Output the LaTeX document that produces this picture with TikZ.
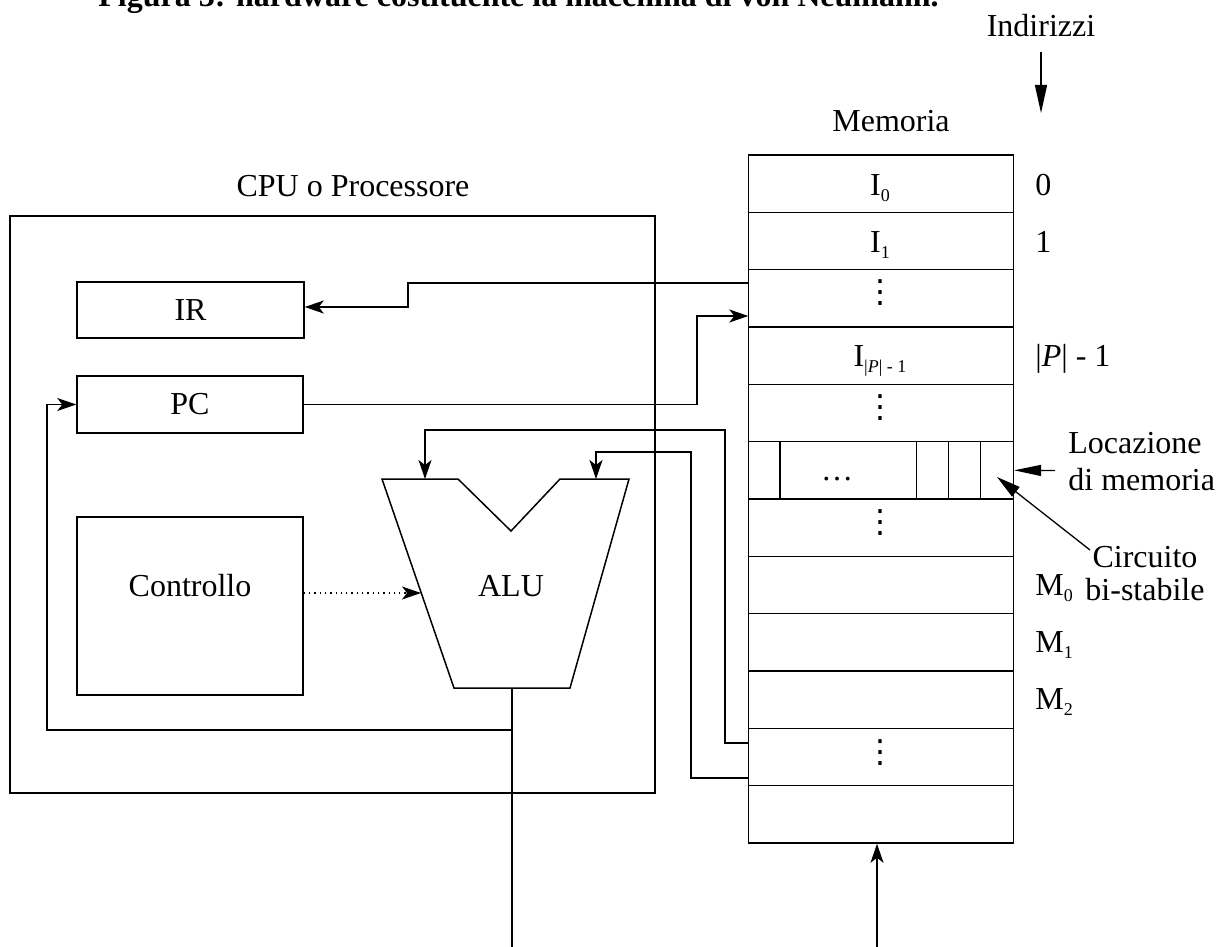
\documentclass[tikz,border=0pt]{standalone}
\usepackage{fontspec}
\setmainfont{Liberation Serif}
\newfontfamily\symfont{DejaVu Sans}
\usetikzlibrary{arrows.meta,calc}
\newcommand\memsub[1]{\raisebox{-0.45ex}{\fontsize{9}{9}\selectfont #1}}
\newcommand\memvdots{{\symfont ⋮}}
\begin{document}
\begin{tikzpicture}[x=0.5pt,y=-0.5pt,
  font=\fontsize{16}{18.5}\selectfont,
  box/.style={draw,line width=0.75pt,inner sep=0pt},
  cell/.style={draw,line width=0.8pt,inner sep=0pt,minimum width=132.5pt,minimum height=28.67pt},
  conn/.style={line width=0.65pt},
  arr/.style={conn,-{Stealth[length=9.5pt,width=6.5pt,inset=2.5pt]}},
  tri/.style={conn,-{Triangle[length=13.5pt,width=5.5pt]}},
  lbl/.style={inner sep=0pt,anchor=base}]
\useasboundingbox (0,0) rectangle (1220,947);

% title (cut at the top of the picture)
\node[anchor=base west,inner sep=0pt,font=\bfseries\fontsize{16}{19}\selectfont] (title) at (98,7) {Figura 3: hardware costituente la macchina di von Neumann.};

% CPU
\node[box,line width=1pt,minimum width=322.5pt,minimum height=288.5pt] (cpu) at (332.5,504.5) {};
\node[lbl] (cpulbl) at (353,196) {CPU o Processore};
\node[box,minimum width=113.5pt,minimum height=28pt] (ir) at (190.5,310) {IR};
\node[box,minimum width=113pt,minimum height=28.5pt] (pc) at (190,404.5) {PC};
\node[box,minimum width=113pt,minimum height=89pt] (ctl) at (190,606) {};
\node[lbl] (ctllbl) at (190,596) {Controllo};

% ALU
\draw[line width=0.75pt] (382,479) -- (458,479) -- (511,531) -- (560,479) -- (629,479)
  -- (570,688) -- (454,688) -- cycle;
\node[lbl] (alu) at (511,596) {ALU};
\coordinate (ina) at (425,479);
\coordinate (inb) at (596,479);
\coordinate (aluout) at (512,688);
\coordinate (outend) at (512,947);
\coordinate (branch) at (512,730);
\coordinate (ctltip) at (421,593);

% Memory
\node[lbl] (memlbl) at (891,132) {Memoria};
\foreach \k in {0,...,11}
  \node[cell] (m\k) at (880.8,{155+57.33*(\k+0.5)}) {};
\node[lbl] (i0) at (880,195) {I\memsub{0}};
\node[lbl] (i1) at (880,252) {I\memsub{1}};
\node[lbl] (ip) at (880,366) {I\memsub{|\textit{P}| - 1}};
\node[inner sep=0pt] (d2) at (880,293) {\memvdots};
\node[inner sep=0pt] (d4) at (880,408) {\memvdots};
\node[inner sep=0pt] (d6) at (880,523) {\memvdots};
\node[inner sep=0pt] (d10) at (880,753) {\memvdots};
\foreach \dx in {32.4,169,201,233}
  \draw[line width=0.75pt] ($(m5.north west)+(\dx,0)$) -- ($(m5.south west)+(\dx,0)$);
\node[lbl] (cdots) at (837,480) {\dots};

% addresses
\node[lbl] (indlbl) at (1041,37) {Indirizzi};
\coordinate (ia) at (1041,52);
\coordinate (ib) at (1041,113);
\draw[conn,-{Triangle[length=14pt,width=6pt]}] (ia) -- (ib);
\node[lbl,anchor=base west] (a0) at (1035,195) {0};
\node[lbl,anchor=base west] (a1) at (1035,252) {1};
\node[lbl,anchor=base west] (ap) at (1035,366) {|\textit{P}| - 1};
\node[lbl,anchor=base west] (mm0) at (1035,595) {M\memsub{0}};
\node[lbl,anchor=base west] (mm1) at (1035,652) {M\memsub{1}};
\node[lbl,anchor=base west] (mm2) at (1035,709) {M\memsub{2}};

% annotations
\node[lbl,anchor=base west,align=left] (loc) at (1068,490) {Locazione\\di memoria};
\coordinate (loctail) at (1055,470.5);
\draw[tri] (loctail) -- (m5.east);
\node[lbl,align=center] (circ) at (1145,600) {Circuito\\[-2pt]bi-stabile};
\coordinate (circtail) at (1090,550);
\coordinate (circtip) at (997,477);
\draw[conn,-{Triangle[length=12pt,width=6pt]}] (circtail) -- (circtip);

% connectors
\coordinate (irsrc) at (748.3,283);
\draw[arr] (irsrc) -| (408,307) -- (ir.east |- 0,307);
\coordinate (pcdst) at (748.3,316);
\draw[arr] (pc.east) -| (697,316) -- (pcdst);
\coordinate (srca) at (748.3,743);
\draw[arr] (srca) -| (725,430) -| (ina);
\coordinate (srcb) at (748.3,778);
\draw[arr] (srcb) -| (691,452) -| (inb);
\draw[conn] (aluout) -- (outend);
\draw[arr] (branch) -- (47,730) |- (pc.west);
\draw[conn,dotted,-{Stealth[length=9.5pt,width=6.5pt,inset=2.5pt]}] (ctl.east |- ctltip) -- (ctltip);
\coordinate (memin) at (877,947);
\draw[arr] (memin) -- (m11.south -| memin);
\end{tikzpicture}
\end{document}
